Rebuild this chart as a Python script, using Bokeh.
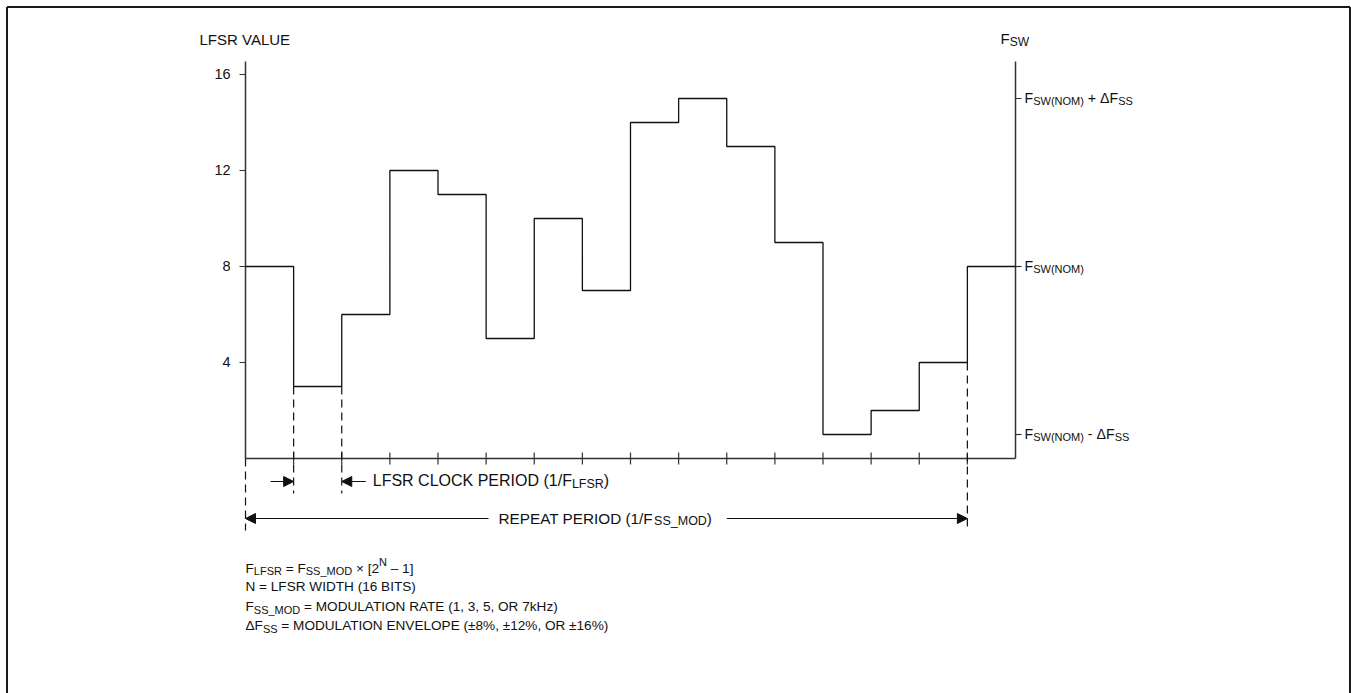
from bokeh.plotting import figure
from bokeh.models import ColumnDataSource, Arrow, NormalHead, Range1d
from bokeh.core.properties import value
from bokeh.embed import file_html
from bokeh.resources import INLINE

# ---------------- data ----------------
periods = list(range(17))
lfsr_values = [8, 3, 6, 12, 11, 5, 10, 7, 14, 15, 13, 9, 1, 2, 4, 8, 8]
left_ticks = [4, 8, 12, 16]
left_tick_labels = ["4", "8", "12", "16"]
right_ticks = [1, 8, 15]
right_tick_labels = [
    [("F", ""), ("SW(NOM)", "sub"), (" - \u0394F", ""), ("SS", "sub")],
    [("F", ""), ("SW(NOM)", "sub")],
    [("F", ""), ("SW(NOM)", "sub"), (" + \u0394F", ""), ("SS", "sub")],
]
x_ticks = list(range(1, 16))
footnotes = [
    [("F", ""), ("LFSR", "sub"), (" = F", ""), ("SS_MOD", "sub"), (" \u00d7 [2", ""), ("N", "sup"), (" \u2013 1]", "")],
    [("N = LFSR WIDTH (16 BITS)", "")],
    [("F", ""), ("SS_MOD", "sub"), (" = MODULATION RATE (1, 3, 5, OR 7kHz)", "")],
    [("\u0394F", ""), ("SS", "sub"), (" = MODULATION ENVELOPE (\u00b18%, \u00b112%, OR \u00b116%)", "")],
]

# ---------------- geometry ----------------
PXX = 48.125   # px per clock period
PXY = 24.0     # px per LFSR unit
W, H = 1351, 693
x0_px, y0_px = 245, 458  # origin inside the canvas
FONT = "Liberation Sans"
INK = "#111111"

p = figure(width=W, height=H, output_backend="svg", toolbar_location=None,
           x_axis_type=None, y_axis_type=None, min_border=0,
           x_range=Range1d(-x0_px / PXX, (W - x0_px) / PXX),
           y_range=Range1d(-(H - y0_px) / PXY, y0_px / PXY))
p.grid.visible = False
p.outline_line_color = None
p.background_fill_color = "white"
p.border_fill_color = "white"

dx = 1.0 / PXX
dy = 1.0 / PXY
top = 16.54

# page frame (left, top, right)
bl, br = (6.5 - x0_px) * dx, (1349.5 - x0_px) * dx
bt, bb = (y0_px - 6.5) * dy, -(H - y0_px) * dy
p.segment(x0=[bl, bl, br], y0=[bb, bt, bt], x1=[bl, br, br], y1=[bt, bt, bb],
          line_color="#1a1a1a", line_width=2)

# axes
p.segment(x0=[0, 16, 0], y0=[0, 0, 0], x1=[0, 16, 16], y1=[top, top, 0],
          line_color="#333333", line_width=1.5)
# left ticks
p.segment(x0=[-6 * dx] * len(left_ticks), y0=left_ticks, x1=[0] * len(left_ticks), y1=left_ticks,
          line_color="#333333", line_width=1.2)
# right ticks
p.segment(x0=[16] * len(right_ticks), y0=right_ticks, x1=[16 + 6 * dx] * len(right_ticks), y1=right_ticks,
          line_color="#333333", line_width=1.2)
# x ticks
p.segment(x0=x_ticks, y0=[-6 * dy] * len(x_ticks), x1=x_ticks, y1=[6 * dy] * len(x_ticks),
          line_color="#333333", line_width=1.2)

# step series
p.step(periods, lfsr_values, mode="after", line_color=INK, line_width=1.3)

# dashed markers
d_x = [0, 1, 2, 15]
d_top = [0, min(lfsr_values[0], lfsr_values[1]), min(lfsr_values[1], lfsr_values[2]),
         min(lfsr_values[14], lfsr_values[15])]
d_bot = [-3.0, -1.46, -1.46, -3.0]
p.segment(x0=d_x, y0=d_top, x1=d_x, y1=d_bot, line_color=INK, line_width=1.2, line_dash="8 5")

# arrows
def arrow(xs, xe, y):
    p.add_layout(Arrow(end=NormalHead(size=10, fill_color=INK, line_color=INK),
                       x_start=xs, y_start=y, x_end=xe, y_end=y,
                       line_color=INK, line_width=1.2))

arrow(0.52, 1.0, -0.958)
arrow(2.5, 2.0, -0.958)
arrow(5.05, 0.0, -2.5)
arrow(10.0, 15.0, -2.5)

# ---------------- rich text ----------------
AW = {' ': 278, '\u00a0': 278, '!': 278, '(': 333, ')': 333, '+': 584, ',': 278, '-': 333,
      '.': 278, '/': 278, '=': 584, '[': 278, ']': 278, '_': 556, '%': 889, '\u00d7': 584,
      '\u2013': 556, '\u00b1': 549, '\u0394': 668,
      'A': 667, 'B': 667, 'C': 722, 'D': 722, 'E': 667, 'F': 611, 'G': 778, 'H': 722, 'I': 278,
      'J': 500, 'K': 667, 'L': 556, 'M': 833, 'N': 722, 'O': 778, 'P': 667, 'Q': 778, 'R': 722,
      'S': 667, 'T': 611, 'U': 722, 'V': 667, 'W': 944, 'X': 667, 'Y': 667, 'Z': 611,
      'k': 500, 'z': 500}

def tw(s, size):
    return sum(AW.get(c, 556) for c in s) * size / 1000.0

T = dict(x=[], y=[], text=[], xo=[], yo=[], fs=[])

def rich(x, y, parts, ox=0.0, oy=0.0, align="left", size=14.5, sub=11.5):
    sizes = [size if k == "" else sub for _, k in parts]
    total = sum(tw(s, z) for (s, _), z in zip(parts, sizes))
    cur = ox - (total if align == "right" else total / 2 if align == "center" else 0)
    for (s, k), z in zip(parts, sizes):
        # keep leading / trailing blanks visible in SVG text
        shown = s.replace(" ", "\u00a0") if (s.startswith(" ") or s.endswith(" ")) else s
        T["x"].append(x)
        T["y"].append(y)
        T["text"].append(shown)
        T["xo"].append(cur)
        T["yo"].append(oy + (3 if k == "sub" else -6 if k == "sup" else 0))
        T["fs"].append(f"{z}px")
        cur += tw(s, z)

# axis titles
rich(0, 17.44, [("LFSR VALUE", "")], ox=-46, size=15)
rich(16, 17.5, [("F", ""), ("SW", "sub")], ox=-15, size=15, sub=12)
# tick labels
for v, lab in zip(left_ticks, left_tick_labels):
    rich(0, v, [(lab, "")], ox=-15, oy=-0.5, align="right")
for v, parts in zip(right_ticks, right_tick_labels):
    rich(16, v, parts, ox=9, oy=-0.5, size=14.2, sub=11)
# period annotations
rich(2, -0.958, [("LFSR CLOCK PERIOD (1/F", ""), ("LFSR", "sub"), (")", "")], ox=31, oy=-0.5,
     size=16, sub=12.5)
rich(0, -2.5, [("REPEAT PERIOD (1/F", ""), ("SS_MOD", "sub"), (")", "")], ox=253, oy=-0.5,
     size=15.3, sub=12.5)
# footnotes
for yy, parts in zip([-4.58, -5.33, -6.17, -6.96], footnotes):
    rich(0, yy, parts, size=13.6, sub=11)

src = ColumnDataSource(T)
p.text(x="x", y="y", text="text", x_offset="xo", y_offset="yo", text_font_size="fs",
       source=src, text_font=value(FONT), text_color=INK, text_baseline="alphabetic",
       text_align="left")

open("out.html", "w").write(file_html(p, INLINE))
